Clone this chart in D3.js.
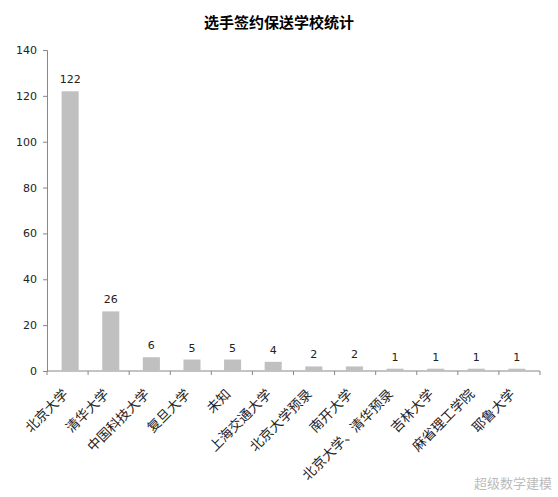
<!DOCTYPE html>
<html><head><meta charset="utf-8">
<script src="https://cdn.jsdelivr.net/npm/d3@7"></script>
<style>body{margin:0;background:#fff}</style>
</head><body>
<script>
var schools = ["北京大学","清华大学","中国科技大学","复旦大学","未知","上海交通大学","北京大学预录","南开大学","北京大学、清华预录","吉林大学","麻省理工学院","耶鲁大学"];
var counts = [122,26,6,5,5,4,2,2,1,1,1,1];
var yTicks = [0,20,40,60,80,100,120,140];

var width = 558, height = 497;
var mLeft = 47, mRight = 540, mTop = 50, mBottom = 371;

var svg = d3.select("body").append("svg")
    .attr("width", width).attr("height", height)
    .style("font-family", "'Noto Sans CJK SC', sans-serif");

var x = d3.scaleBand().domain(schools).range([mLeft, mRight]).paddingInner(0.58).paddingOuter(0.36);
var y = d3.scaleLinear().domain([0, 140]).range([mBottom, mTop]);

svg.append("text").attr("x", 279).attr("y", 28).attr("text-anchor", "middle")
    .attr("font-size", 15).attr("font-weight", "bold").text("选手签约保送学校统计");

// y axis
var ya = svg.append("g").attr("transform", "translate(" + mLeft + ",0)")
    .call(d3.axisLeft(y).tickValues(yTicks).tickSize(4).tickPadding(6));
ya.selectAll("text").attr("font-family", "'DejaVu Sans', sans-serif").attr("font-size", 11).attr("fill", "#222");
ya.selectAll("line,path").attr("stroke", "#888");

// x axis with ticks at band edges
var xa = svg.append("g").attr("transform", "translate(0," + mBottom + ")");
xa.append("line").attr("x1", mLeft).attr("x2", mRight).attr("stroke", "#888");
var edges = d3.range(schools.length + 1).map(function(i){ return mLeft + i * (mRight - mLeft) / schools.length; });
xa.selectAll(".tk").data(edges).enter().append("line")
    .attr("x1", function(d){ return d; }).attr("x2", function(d){ return d; })
    .attr("y1", 0).attr("y2", 4).attr("stroke", "#888");

svg.selectAll(".bar").data(counts).enter().append("rect")
    .attr("x", function(d, i){ return x(schools[i]); })
    .attr("width", x.bandwidth())
    .attr("y", function(d){ return y(d); })
    .attr("height", function(d){ return mBottom - y(d); })
    .attr("fill", "#c0c0c0");

svg.selectAll(".val").data(counts).enter().append("text")
    .attr("x", function(d, i){ return x(schools[i]) + x.bandwidth() / 2; })
    .attr("y", function(d){ return y(d) - 8; })
    .attr("text-anchor", "middle").attr("font-size", 11)
    .attr("font-family", "'DejaVu Sans', sans-serif").attr("fill", "#222")
    .text(function(d){ return d; });

svg.selectAll(".lab").data(schools).enter().append("text")
    .attr("transform", function(d){
        return "translate(" + (x(d) + x.bandwidth() / 2 - 1) + "," + (mBottom + 24) + ") rotate(-45)";
    })
    .attr("text-anchor", "end").attr("font-size", 13.5).attr("fill", "#222")
    .text(function(d){ return d; });

svg.append("text").attr("x", 552).attr("y", 488).attr("text-anchor", "end")
    .attr("font-size", 13).attr("fill", "#bbb").text("超级数学建模");
</script>
</body></html>
